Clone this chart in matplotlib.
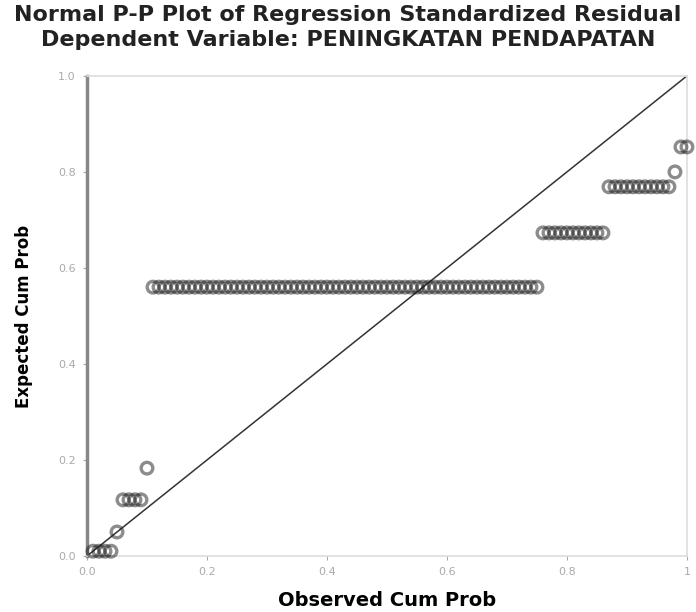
import numpy as np
import matplotlib
matplotlib.use('Agg')
import matplotlib.pyplot as plt

plt.rcParams['font.family'] = ['DejaVu Sans']

# Datos: niveles de probabilidad esperada y cuantos residuos caen en cada uno
expected_levels = [0.01, 0.05, 0.117, 0.183, 0.56, 0.673, 0.769, 0.80, 0.852]
level_counts = [4, 1, 4, 1, 65, 11, 11, 1, 2]

tick_vals = [0.0, 0.2, 0.4, 0.6, 0.8, 1.0]
x_tick_labels = ['0.0', '0.2', '0.4', '0.6', '0.8', '1']
y_tick_labels = ['0.0', '0.2', '0.4', '0.6', '0.8', '1.0']

# Observed cum prob = rango / n (como en SPSS)
n = sum(level_counts)
observed = np.arange(1, n + 1) / n
expected = np.repeat(expected_levels, level_counts)

fig = plt.figure(figsize=(6.96, 6.12), dpi=100)
ax = fig.add_axes([0.125, 0.0915, 0.862, 0.7845])

ax.plot([0, 1], [0, 1], color='#333333', lw=1.1, zorder=2)
ax.scatter(observed, expected, s=70, facecolors='none', edgecolors=(0.1, 0.1, 0.1, 0.5),
           linewidths=2.4, zorder=3, clip_on=False)

ax.set_xlim(0, 1)
ax.set_ylim(0, 1)
ax.set_xticks(tick_vals)
ax.set_xticklabels(x_tick_labels)
ax.set_yticks(tick_vals)
ax.set_yticklabels(y_tick_labels)
ax.tick_params(axis='both', labelsize=8, colors='#aaaaaa', length=3,
               direction='out', pad=5)

for s in ['top', 'right', 'bottom']:
    ax.spines[s].set_color('#dddddd')
    ax.spines[s].set_linewidth(1.2)
ax.spines['left'].set_color('#888888')
ax.spines['left'].set_linewidth(2.5)

ax.set_xlabel('Observed Cum Prob', fontweight='bold', fontsize=14, labelpad=10)
ax.set_ylabel('Expected Cum Prob', fontweight='bold', fontsize=12, labelpad=18)

fig.text(0.5, 0.975, 'Normal P-P Plot of Regression Standardized Residual',
         ha='center', va='center', fontsize=16, fontweight='bold', color='#222222')
fig.text(0.5, 0.934, 'Dependent Variable: PENINGKATAN PENDAPATAN',
         ha='center', va='center', fontsize=16, fontweight='bold', color='#222222')

plt.savefig('out.png', dpi=100)
